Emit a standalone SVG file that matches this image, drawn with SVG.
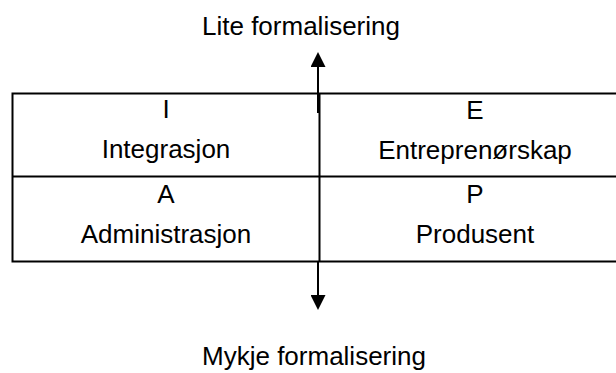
<svg xmlns="http://www.w3.org/2000/svg" width="616" height="373" viewBox="0 0 616 373">
<style>
.t{font-family:"Liberation Sans",Arial,sans-serif;font-size:26px;fill:#000;text-anchor:middle}
.ln{stroke:#000;stroke-width:2;fill:none}
</style>
<defs>
<marker id="ah" viewBox="0 0 15 15" refX="0" refY="7.5" markerWidth="15" markerHeight="15" markerUnits="userSpaceOnUse" orient="auto">
<path d="M0,0 L15,7.5 L0,15 Z" fill="#000"/>
</marker>
</defs>
<rect width="616" height="373" fill="#fff"/>
<g id="table">
<path class="ln" d="M12.5,93.5 H617 M12.5,176.5 H617 M12.5,261.5 H617 M12.5,92.5 V262.5 M319.5,93 V262"/>
</g>
<g id="cell-I">
<text class="t" x="166" y="118">I</text>
<text class="t" x="166" y="158">Integrasjon</text>
</g>
<g id="cell-E">
<text class="t" x="475" y="119">E</text>
<text class="t" x="475" y="159">Entreprenørskap</text>
</g>
<g id="cell-A">
<text class="t" x="166" y="203">A</text>
<text class="t" x="166" y="243">Administrasjon</text>
</g>
<g id="cell-P">
<text class="t" x="475" y="203">P</text>
<text class="t" x="475" y="243">Produsent</text>
</g>
<g id="label-top">
<text class="t" x="301" y="35">Lite formalisering</text>
</g>
<g id="label-bottom">
<text class="t" x="314" y="365">Mykje formalisering</text>
</g>
<g id="connectors">
<line class="ln" x1="318" y1="113" x2="318" y2="67" marker-end="url(#ah)"/>
<line class="ln" x1="318" y1="262" x2="318" y2="295" marker-end="url(#ah)"/>
</g>
</svg>
